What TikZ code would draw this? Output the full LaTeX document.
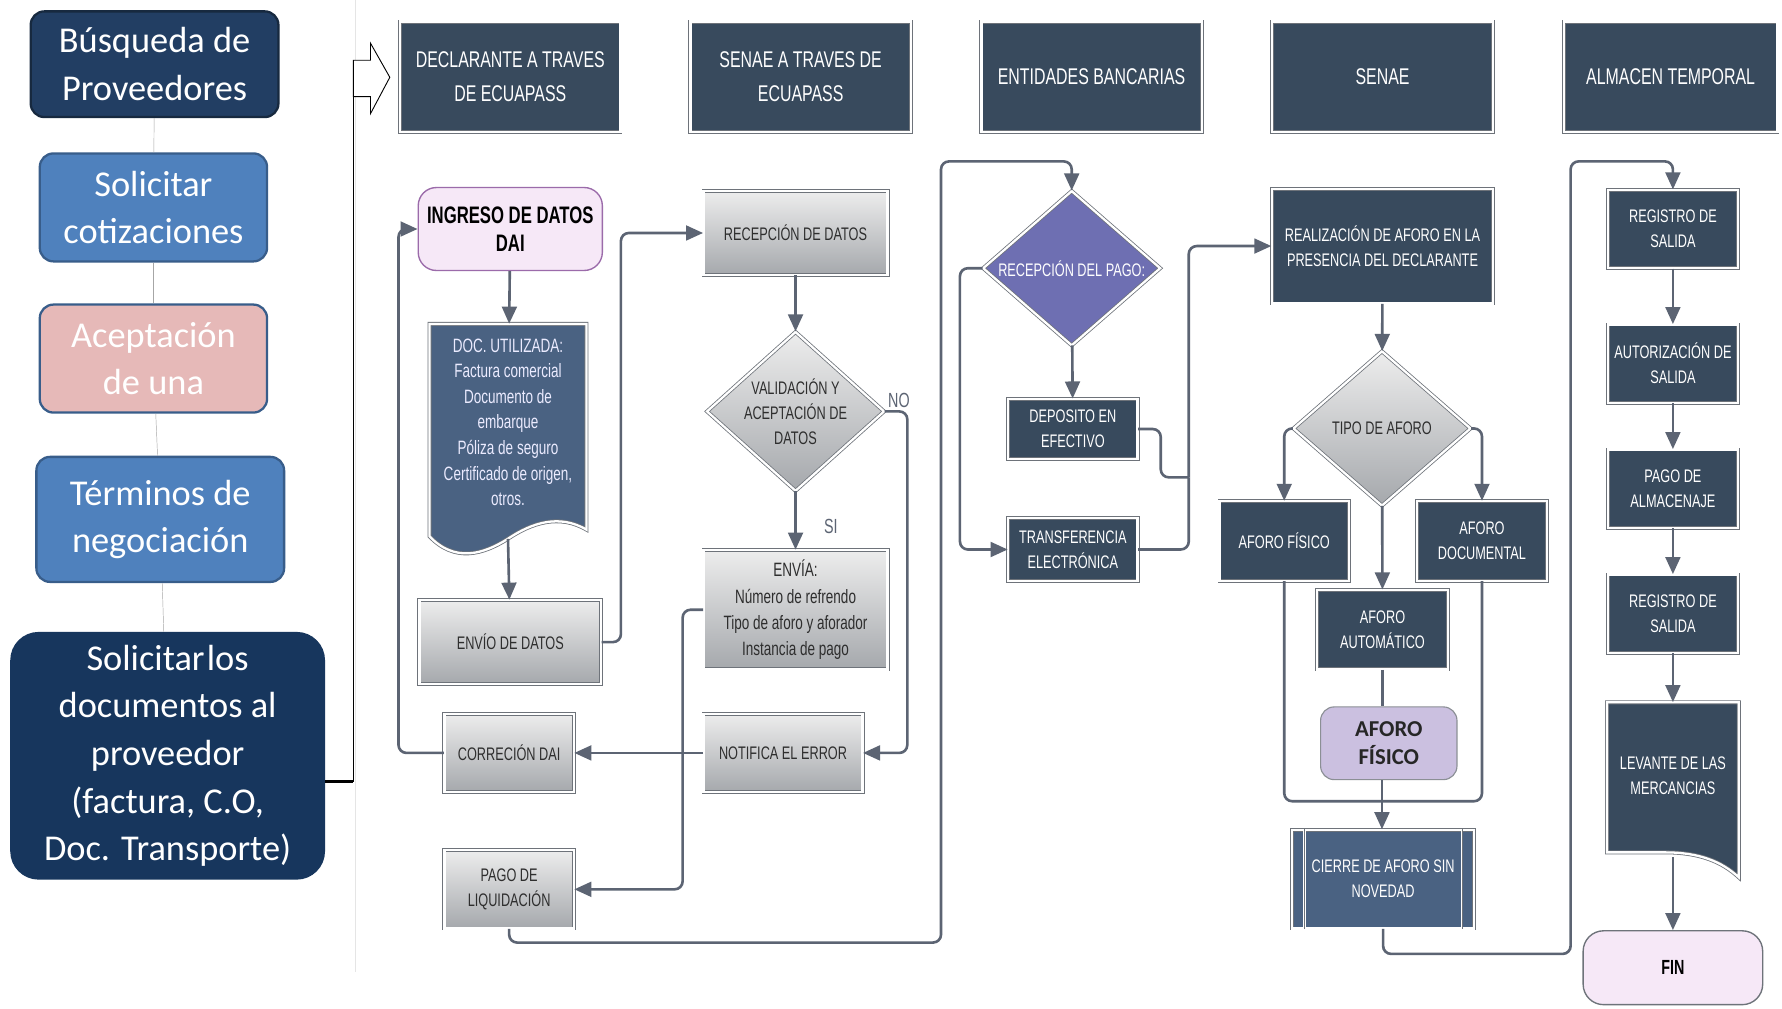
\documentclass[tikz,border=0pt]{standalone}
\usepackage{fontspec}
\setmainfont{Liberation Sans}
\newfontfamily\condfont[FakeStretch=0.7]{Liberation Sans}
\newfontfamily\calib{Carlito}
\usetikzlibrary{positioning,shapes.geometric,arrows.meta,backgrounds}

\definecolor{slate}{HTML}{384A5D}
\definecolor{docblue}{HTML}{4A6282}
\definecolor{edgegray}{HTML}{6E737A}
\definecolor{flowgray}{HTML}{5C6473}
\definecolor{boxtop}{HTML}{EDEDED}
\definecolor{boxbot}{HTML}{A5A8AC}
\definecolor{boxtext}{HTML}{2E2E2E}
\definecolor{purp}{HTML}{6E6FB2}
\definecolor{pinkfill}{HTML}{F6E8F7}
\definecolor{pinkedge}{HTML}{9B6BAA}
\definecolor{lav}{HTML}{CBC0E0}
\definecolor{navy}{HTML}{223E63}
\definecolor{navyedge}{HTML}{17293F}
\definecolor{deepnavy}{HTML}{17365D}
\definecolor{midblue}{HTML}{4F81BD}
\definecolor{blueedge}{HTML}{385D8A}
\definecolor{rose}{HTML}{E6B9B8}

\begin{document}
\begin{tikzpicture}[x=1pt, y=-1pt,
stage/.style={rectangle, rounded corners=12pt, line width=2pt, text=white, align=center, inner sep=0pt, font=\calib\fontsize{32}{42}\selectfont},
rim/.style={draw=edgegray, line width=0.7pt, double=white, double distance=2pt, inner sep=2pt, align=center},
darkbox/.style={rectangle, rim, fill=slate, text=white, font=\condfont\fontsize{16}{22}\selectfont},
header/.style={darkbox, minimum width=194pt, minimum height=97pt, font=\condfont\fontsize{20}{30}\selectfont},
graybox/.style={rectangle, rim, top color=boxtop, bottom color=boxbot, text=boxtext, font=\condfont\fontsize{16}{22}\selectfont},
decision/.style={diamond, rim, inner sep=0pt, minimum width=156pt, minimum height=136pt},
dtext/.style={align=center, font=\condfont\fontsize{16}{22}\selectfont},
terminal/.style={rectangle, rounded corners=16pt, fill=pinkfill, draw=pinkedge, line width=1.2pt, align=center, text=black, font=\condfont\bfseries\fontsize{21}{25}\selectfont},
flow/.style={draw=flowgray, line width=2.3pt, rounded corners=7pt, -{Triangle[length=15pt,width=13pt]}},
link/.style={draw=flowgray, line width=2.3pt, rounded corners=7pt},
tag/.style={text=flowgray, font=\condfont\fontsize{18}{20}\selectfont, inner sep=2pt},
]
\useasboundingbox (0,0) rectangle (1568,887);

% left column
\node[stage, fill=navy, draw=navyedge, minimum width=218pt, minimum height=93pt] (busq) at (136,56.5) {Búsqueda de\\Proveedores};
\node[stage, fill=midblue, draw=blueedge, minimum width=200pt, minimum height=95pt] (cotiz) at (135,182.5) {Solicitar\\cotizaciones};
\node[stage, fill=rose, draw=blueedge, minimum width=200pt, minimum height=95pt] (acept) at (135,315.5) {Aceptación\\de una};
\node[stage, fill=midblue, draw=blueedge, minimum width=218pt, minimum height=110pt] (term) at (141,457) {Términos de\\negociación};
\node[stage, fill=deepnavy, draw=deepnavy, rounded corners=24pt, minimum width=275pt, minimum height=216pt] (soldoc) at (147.5,665) {Solicitar\kern2pt los\\documentos al\\proveedor\\(factura, C.O,\\Doc. Transporte)};
\draw[gray!70, thin] (busq) -- (cotiz);
\draw[gray!70, thin] (cotiz) -- (acept);
\draw[gray!70, thin] (acept) -- (term);
\draw[gray!70, thin] (term) -- (soldoc);

\coordinate (foot) at (311,85);
\coordinate (bend) at (311,688);
\draw[gray!20] (313,0) -- (313,855);
\draw[fill=white, line width=0.8pt] (311,53) -- (326,53) -- (326,38) -- (343,68) -- (326,100) -- (326,85) -- (foot) -- cycle;
\draw[line width=1pt] (foot) -- (bend);
\draw[line width=2.5pt] (soldoc.east |- bend) -- (bend);

% lanes
\node[header] (hdecl) at (449,67.5) {DECLARANTE A TRAVES\\DE ECUAPASS};
\node[header] (hsenae) at (704.5,67.5) {SENAE A TRAVES DE\\ECUAPASS};
\node[header] (hbanco) at (960.5,67.5) {ENTIDADES BANCARIAS};
\node[header] (hsenaeb) at (1216.5,67.5) {SENAE};
\node[header, minimum width=188pt] (halm) at (1470,67.5) {ALMACEN TEMPORAL};

% declarante
\node[terminal, draw=pinkedge, minimum width=162pt, minimum height=73pt] (ingreso) at (449,201.5) {INGRESO DE DATOS\\DAI};
\node[align=center, text=white!92!blue, inner sep=0pt, minimum width=138pt, minimum height=173pt, font=\condfont\fontsize{17}{22.5}\selectfont] (doc) at (447,371.5) {DOC. UTILIZADA:\\Factura comercial\\Documento de\\embarque\\Póliza de seguro\\Certificado de origen,\\otros.};
\node[graybox, minimum width=160pt, minimum height=74pt] (envio) at (449,565) {ENVÍO DE DATOS};
\node[graybox, minimum width=114pt, minimum height=69pt] (correc) at (448,662.5) {CORRECIÓN DAI};
\node[graybox, minimum width=114pt, minimum height=69pt] (pago) at (448,782.5) {PAGO DE\\LIQUIDACIÓN};

% senae ecuapass
\node[graybox, minimum width=162pt, minimum height=74pt] (recdat) at (700,205) {RECEPCIÓN DE DATOS};
\node[decision, top color=boxtop, bottom color=boxbot, minimum height=140pt, label={[dtext, text=boxtext]center:VALIDACIÓN Y\\ACEPTACIÓN DE\\DATOS}] (valid) at (700,362) {};
\node[graybox, minimum width=162pt, minimum height=105pt, font=\condfont\fontsize{17}{23}\selectfont] (envia) at (700,536.5) {ENVÍA:\\Número de refrendo\\Tipo de aforo y aforador\\Instancia de pago};
\node[graybox, minimum width=140pt, minimum height=69pt] (notif) at (689,662.5) {NOTIFICA EL ERROR};

% bancos
\node[decision, fill=purp, label={[dtext, text=white]center:RECEPCIÓN DEL PAGO:}] (recpago) at (943,236) {};
\node[darkbox, minimum width=114pt, minimum height=53pt] (depo) at (944,377.5) {DEPOSITO EN\\EFECTIVO};
\node[darkbox, minimum width=114pt, minimum height=55pt] (transf) at (944,483.5) {TRANSFERENCIA\\ELECTRÓNICA};

% senae
\node[darkbox, minimum width=195pt, minimum height=101pt] (realiz) at (1216.5,216.5) {REALIZACIÓN DE AFORO EN LA\\PRESENCIA DEL DECLARANTE};
\node[decision, top color=boxtop, bottom color=boxbot, label={[dtext, text=boxtext]center:TIPO DE AFORO}] (tipo) at (1216,377) {};
\node[darkbox, minimum width=114pt, minimum height=70pt] (afis) at (1130,476) {AFORO FÍSICO};
\node[darkbox, minimum width=114pt, minimum height=70pt] (adoc) at (1304,476) {AFORO\\DOCUMENTAL};
\node[darkbox, minimum width=115pt, minimum height=70pt] (aauto) at (1216.5,554) {AFORO\\AUTOMÁTICO};
\node[rectangle, rounded corners=12pt, fill=lav, draw=edgegray!80, line width=1pt, align=center, text=black!85, minimum width=120pt, minimum height=64pt, font=\calib\bfseries\fontsize{20}{25}\selectfont] (afis2) at (1222,654) {AFORO\\FÍSICO};
\node[darkbox, fill=docblue, minimum width=160pt, minimum height=87pt] (cierre) at (1217,773.5) {CIERRE DE AFORO SIN\\NOVEDAD};
\foreach \s/\c in {11/west,-11/east} {
  \draw[white, line width=2.4pt] ([xshift=\s pt]cierre.north \c) -- ([xshift=\s pt]cierre.south \c);
  \draw[edgegray, line width=0.6pt] ([xshift=\s pt]cierre.north \c) -- ([xshift=\s pt]cierre.south \c);
}

% almacen
\node[darkbox, minimum width=114pt, minimum height=69pt] (reg1) at (1472,201.5) {REGISTRO DE\\SALIDA};
\node[darkbox, minimum width=114pt, minimum height=69pt] (aut) at (1472,320) {AUTORIZACIÓN DE\\SALIDA};
\node[darkbox, minimum width=114pt, minimum height=69pt] (pagalm) at (1472,430) {PAGO DE\\ALMACENAJE};
\node[darkbox, minimum width=114pt, minimum height=69pt] (reg2) at (1472,540) {REGISTRO DE\\SALIDA};
\node[align=center, text=white, inner sep=0pt, minimum width=114pt, minimum height=130pt, font=\condfont\fontsize{16}{22}\selectfont] (lev) at (1472,683) {LEVANTE DE LAS\\MERCANCIAS};
\node[terminal, draw=edgegray, rounded corners=18pt, minimum width=158pt, minimum height=65pt, font=\condfont\bfseries\fontsize{18}{20}\selectfont] (fin) at (1472,851.5) {FIN};

% shapes behind
\begin{scope}[on background layer]
\fill[white] (0,0) rectangle (1568,887);
\draw[rim, fill=docblue] (378,285) -- (516,285) -- (516,466) .. controls (492,452) and (468,460) .. (447,474) .. controls (425,488) and (400,495) .. (378,472) -- cycle;
\draw[rim, fill=slate] (1414,618) -- (1530,618) -- (1530,772) .. controls (1515,758) and (1495,750) .. (1465,750) -- (1414,750) -- cycle;
\end{scope}

% connectors
\coordinate (laneA) at (828,142);
\coordinate (laneB) at (1382,142);
\coordinate (join) at (1046,420);
\coordinate (merge) at (1216,705);

\draw[flow] (ingreso) -- (doc);
\draw[flow] ([yshift=-16pt]doc.south) -- (envio);
\draw[flow] (envio.east) -- ++(17,0) |- (recdat.west);
\draw[flow] (recdat) -- (valid);
\draw[flow] (valid) -- (envia) node[tag, pos=0.6, right=22pt] {SI};
\draw[flow] (valid.east) node[tag, anchor=south west] {NO} -- ++(20,0) |- (notif.east);
\draw[flow] (notif) -- (correc);
\draw[flow] (correc.west) -- ++(-40,0) |- (ingreso.west);
\draw[flow] (envia.west) -- ++(-18,0) |- (pago.east);
\draw[flow] (pago.south) -- ++(0,12) -| (laneA) -| (recpago.north);

\draw[flow] (recpago) -- (depo);
\draw[flow] (recpago.west) -- ++(-20,0) |- (transf.west);
\draw[link] (depo.east) -- ++(20,0) |- (join);
\draw[link] (transf.east) -| (join);
\draw[flow] (join) |- (realiz.west);

\draw[flow] (realiz) -- (tipo);
\draw[flow] (tipo.west) -| (afis.north);
\draw[flow] (tipo.east) -| (adoc.north);
\draw[flow] (tipo) -- (aauto);
\draw[link] (aauto.south) -- (aauto.south |- afis2.north);
\draw[link] (afis.south) |- (merge) -| (adoc.south);
\draw[flow] (afis2.south -| merge) -- (cierre.north -| merge);
\draw[flow] (cierre.south) -- ++(0,22) -| (laneB) -| (reg1.north);

\foreach \a/\b in {reg1/aut, aut/pagalm, pagalm/reg2}
  \draw[flow] (\a) -- (\b);
\draw[flow] (reg2) -- (lev.north);
\draw[flow] ([yshift=-6pt]lev.south) -- (fin);
\end{tikzpicture}
\end{document}
